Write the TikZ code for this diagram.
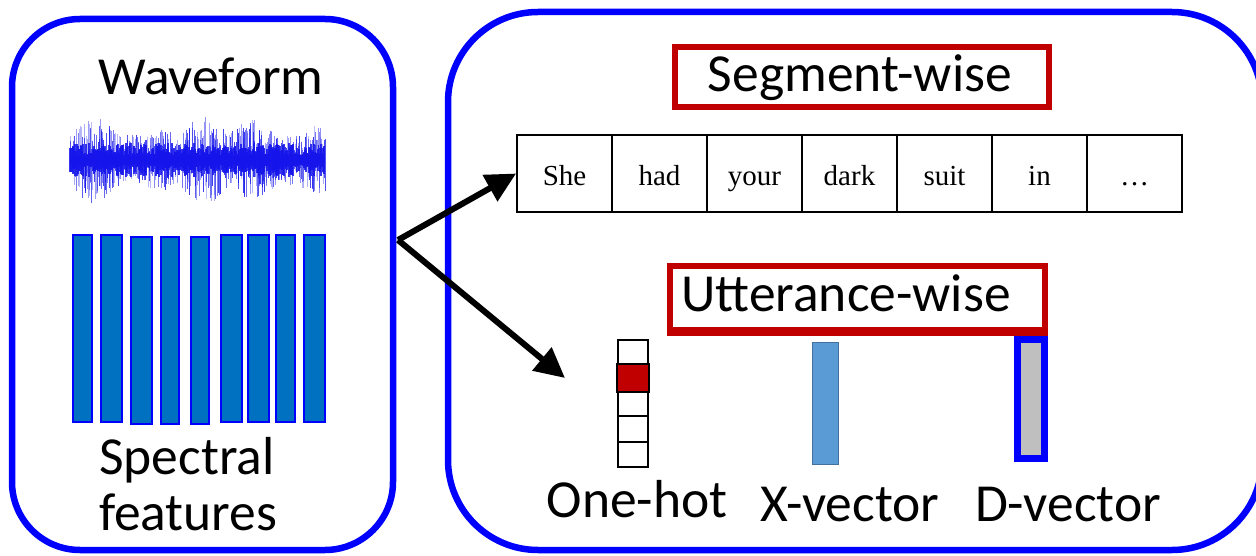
\documentclass[tikz,border=0pt]{standalone}
\usepackage{fontspec}
\setmainfont{Carlito}
\newfontfamily\wordfont{Liberation Serif}
\usetikzlibrary{arrows.meta}
\definecolor{panelblue}{RGB}{0,0,255}
\definecolor{barfill}{RGB}{0,112,192}
\definecolor{tagred}{RGB}{192,0,0}
\definecolor{xfill}{RGB}{91,155,213}
\definecolor{xdraw}{RGB}{65,113,156}
\definecolor{dgray}{RGB}{191,191,191}
\definecolor{wavecol}{RGB}{20,20,235}

\begin{document}
\begin{tikzpicture}[x=1pt,y=-1pt,
  panel/.style={draw=panelblue,line width=6.5pt},
  biglabel/.style={font=\fontsize{53.5}{60}\selectfont,inner sep=0pt,anchor=base},
  tagbox/.style={draw=tagred,line width=6pt,rectangle,inner sep=0pt},
  wordcell/.style={draw=black,line width=1.8pt,minimum width=95pt,minimum height=77pt,
    inner sep=0pt,text height=24pt,text depth=0pt,font=\wordfont\fontsize{29}{34}\selectfont},
  hotcell/.style={draw=black,line width=2pt,minimum width=30pt,minimum height=25.4pt,inner sep=0pt},
  specbar/.style={draw=panelblue,fill=barfill,line width=2.2pt},
  bigarrow/.style={line width=6pt,-{Triangle[length=30pt,width=29pt]}},
  wave/.style={draw=wavecol,line width=0.8pt}
]
\useasboundingbox (0,0) rectangle (1256,556);

% two rounded panels
\draw[panel,rounded corners=68pt] (12,19) rectangle (393,550);
\draw[panel,rounded corners=90pt] (448,12) rectangle (1262,550);

% ---------- left panel ----------
\node[biglabel] (wavelbl) at (211,95) {Waveform};

% audio waveform: random spikes around a dense core
\pgfmathsetseed{17}
\foreach \i in {0,...,510} {
  \pgfmathsetmacro{\xx}{70+\i*0.5}
  \pgfmathsetmacro{\env}{0.5+0.5*abs(sin(\i*1.7))*abs(cos(\i*0.61))}
  \pgfmathsetmacro{\hu}{4+42*\env*rnd^1.8}
  \pgfmathsetmacro{\hd}{4+42*\env*rnd^1.8}
  \pgfmathsetmacro{\op}{0.25+0.6*rnd}
  \draw[wave,opacity=\op] (\xx,160-\hu) -- (\xx,160+\hd);
}
\foreach \i in {0,...,254} {
  \pgfmathsetmacro{\xx}{70+\i}
  \pgfmathsetmacro{\hc}{5+12*rnd}
  \draw[wave,opacity=0.85,line width=1.1pt] (\xx,160-\hc) -- (\xx,160+\hc);
}
\draw[draw=wavecol,line width=5pt] (70,160) -- (325,160);

% spectral feature frames
\foreach \a/\b/\t/\u in {73/92/235/422, 101/122/235/422, 131/152/237/424,
    161/179/237/424, 191/209/237/424, 221/242/235/422, 248/269/235/422,
    276/295/235/422, 304/325/235/422}
  \draw[specbar] (\a,\t) rectangle (\b,\u);

\node[biglabel,anchor=base west] (speclbl) at (99,474) {Spectral};
\node[biglabel,anchor=base west] (featlbl) at (99,530) {features};

% ---------- right panel ----------
\node[tagbox,minimum width=374pt,minimum height=60pt] (segbox) at (862,77) {};
\node[biglabel] (seglbl) at (860,92) {Segment-wise};

% word sequence
\foreach \w [count=\k] in {She,had,your,dark,suit,in,\dots} {
  \node[wordcell] (w\k) at (564.5+95*\k-95,173.5) {\w};
}

\node[tagbox,minimum width=375pt,minimum height=64pt] (uttbox) at (857.5,298) {};
\node[biglabel] (uttlbl) at (846,311) {Utterance-wise};

% one-hot vector
\foreach \k in {1,...,5} {
  \node[hotcell] (oh\k) at (633,352.7+25.4*\k-25.4) {};
}
\fill[tagred] ([shift={(1pt,-1pt)}]oh2.south west) rectangle ([shift={(-1pt,1pt)}]oh2.north east);
\draw[line width=2pt] (oh2.south west) rectangle (oh2.north east);

% x-vector
\node[draw=xdraw,fill=xfill,line width=1.5pt,minimum width=26pt,minimum height=122pt,inner sep=0pt]
  (xvec) at (825.5,403.5) {};
% d-vector
\node[draw=panelblue,fill=dgray,line width=7pt,minimum width=27pt,minimum height=119pt,inner sep=0pt]
  (dvec) at (1031,398.5) {};
% tag box edge redrawn on top of the d-vector frame
\draw[tagred,line width=6pt] (uttbox.south west) -- (uttbox.south east);

\node[biglabel] (ohlbl) at (637,517) {One-hot};
\node[biglabel] (xlbl) at (850,521) {X-vector};
\node[biglabel] (dlbl) at (1068,521) {D-vector};

% arrows from the feature panel
\coordinate (src) at (398,240);
\coordinate (uttin) at (565,378);
\draw[bigarrow] (src) -- (w1.west);
\draw[bigarrow] (src) -- (uttin);
\end{tikzpicture}
\end{document}
